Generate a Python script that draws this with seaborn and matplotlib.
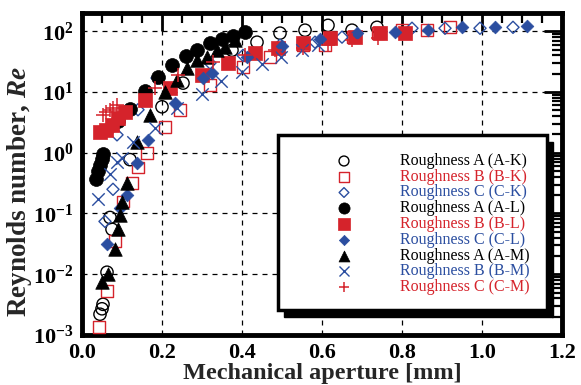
import matplotlib
matplotlib.use("Agg")
import numpy as np
import pandas as pd
import seaborn as sns
import matplotlib.pyplot as plt
from matplotlib.ticker import LogLocator, MultipleLocator, LogFormatterMathtext, NullFormatter, FormatStrFormatter
from matplotlib.patches import Rectangle

# ---------------- data ----------------
ak_x = [0.045, 0.05, 0.0525, 0.0625, 0.07, 0.075, 0.12, 0.2, 0.2525, 0.375, 0.4375, 0.495, 0.5575, 0.615, 0.675, 0.7375]
ak_y = [0.0022, 0.0027, 0.0032, 0.0108, 0.086, 0.055, 0.77, 5.7, 14, 48.8, 66, 93, 104, 125, 104, 116]

bk_x = [0.0425, 0.0625, 0.0825, 0.1025, 0.125, 0.14, 0.1625, 0.2075, 0.245, 0.32, 0.4025, 0.47, 0.5525, 0.6075, 0.6775, 0.74, 0.8, 0.8625, 0.92]
bk_y = [0.00135, 0.0053, 0.035, 0.157, 0.32, 0.57, 1.0, 2.67, 5.1, 13, 25.7, 37.5, 59, 59, 80, 93, 104, 104, 116]

ck_x = [0.0575, 0.0775, 0.0875, 0.14, 0.1875, 0.32, 0.4025, 0.495, 0.5825, 0.65, 0.825, 0.9075, 0.995, 1.0775]
ck_y = [0.074, 0.25, 1.97, 5.1, 17, 30, 40, 59, 66, 80, 112, 112, 112, 116]

al_x = [0.035, 0.04, 0.045, 0.05, 0.0525, 0.09, 0.12, 0.1575, 0.19, 0.225, 0.26, 0.2875, 0.32, 0.35, 0.3775, 0.4075]
al_y = [0.37, 0.51, 0.64, 0.80, 0.96, 3.3, 5.3, 10.4, 17.6, 27.7, 38.9, 48.8, 63.6, 73.9, 82.8, 96.3]

bl_x = [0.045, 0.06, 0.075, 0.09, 0.1075, 0.1575, 0.22, 0.3, 0.365, 0.4325, 0.49, 0.5525, 0.62, 0.6825, 0.745, 0.8075]
bl_y = [2.2, 2.4, 2.9, 3.7, 4.7, 7.4, 11.6, 19, 30, 43.6, 52.6, 63.6, 77, 80, 93, 93]

cl_x = [0.0625, 0.095, 0.1125, 0.1375, 0.165, 0.2325, 0.3025, 0.325, 0.4125, 0.5, 0.595, 0.6875, 0.7825, 0.865, 0.95, 1.0325, 1.1125]
cl_y = [0.031, 0.125, 0.2, 0.69, 1.63, 6.6, 17, 20.5, 37.5, 57, 74, 93, 96, 104, 116, 116, 121]

am_x = [0.05, 0.065, 0.0825, 0.09, 0.095, 0.1, 0.1125, 0.1375, 0.17, 0.2075, 0.2375, 0.2625, 0.2875, 0.3125, 0.3375, 0.3575, 0.3825]
am_y = [0.0074, 0.010, 0.026, 0.055, 0.096, 0.157, 0.32, 1.5, 4.2, 10, 15.7, 24.7, 33.5, 37.5, 48.8, 54.7, 71]

bm_x = [0.04, 0.07, 0.0875, 0.1, 0.1275, 0.1825, 0.2375, 0.3, 0.3475, 0.4, 0.45, 0.4975, 0.55, 0.59]
bm_y = [0.17, 0.44, 0.71, 0.83, 1.5, 2.57, 5.5, 9.3, 15.1, 21, 28.8, 37.5, 49, 59]

cm_x = [0.0525, 0.06, 0.07, 0.0775, 0.0875, 0.1825, 0.24, 0.3275, 0.4075, 0.4825, 0.5525, 0.615, 0.675, 0.74]
cm_y = [4.2, 4.7, 5.1, 5.5, 6.1, 11.6, 19, 31, 40, 49, 53, 59, 71, 77]

labels = ["Roughness A (A-K)", "Roughness B (B-K)", "Roughness C (C-K)",
          "Roughness A (A-L)", "Roughness B (B-L)", "Roughness C (C-L)",
          "Roughness A (A-M)", "Roughness B (B-M)", "Roughness C (C-M)"]
x_ticks = [0.0, 0.2, 0.4, 0.6, 0.8, 1.0, 1.2]

# ---------------- style ----------------
sns.set_theme(style="white")
plt.rcParams["font.family"] = ["Liberation Serif", "DejaVu Serif"]
plt.rcParams["mathtext.fontset"] = "custom"
plt.rcParams["mathtext.rm"] = "Liberation Serif:bold"
plt.rcParams["mathtext.it"] = "Liberation Serif:bold:italic"
plt.rcParams["mathtext.bf"] = "Liberation Serif:bold"

BLACK = "#000000"
RED = "#d5232b"
BLUE = "#2b4ea0"

series = [
    (ak_x, ak_y, dict(marker="o", s=78, color=BLACK, facecolor="none", edgecolor=BLACK, linewidth=1.0)),
    (bk_x, bk_y, dict(marker="s", s=72, color=RED, facecolor="none", edgecolor=RED, linewidth=1.0)),
    (ck_x, ck_y, dict(marker="D", s=38, color=BLUE, facecolor="none", edgecolor=BLUE, linewidth=1.0)),
    (al_x, al_y, dict(marker="o", s=100, color=BLACK, edgecolor=BLACK, linewidth=0.5)),
    (bl_x, bl_y, dict(marker="s", s=100, color=RED, edgecolor=RED, linewidth=0.5)),
    (cl_x, cl_y, dict(marker="D", s=42, color=BLUE, edgecolor=BLUE, linewidth=0.5)),
    (am_x, am_y, dict(marker="^", s=95, color=BLACK, edgecolor=BLACK, linewidth=0.5)),
    (bm_x, bm_y, dict(marker="x", s=80, color=BLUE, linewidth=1.0)),
    (cm_x, cm_y, dict(marker="+", s=90, color=RED, linewidth=1.1)),
]

fig = plt.figure(figsize=(5.81, 3.85), dpi=100)
ax = fig.add_axes([82 / 581, 1 - 335 / 385, 480 / 581, 322 / 385])

for xs, ys, kw in series:
    df = pd.DataFrame({"x": xs, "y": ys})
    sns.scatterplot(data=df, x="x", y="y", ax=ax, legend=False, zorder=3, **kw)

ax.set_yscale("log")
ax.set_xlim(0, 1.2)
ax.set_ylim(1e-3, 10 ** 2.3)

ax.set_xticks(x_ticks)
ax.xaxis.set_major_formatter(FormatStrFormatter("%.1f"))
ax.xaxis.set_minor_locator(MultipleLocator(0.05))
ax.yaxis.set_major_locator(LogLocator(base=10, numticks=10))
ax.yaxis.set_minor_locator(LogLocator(base=10, subs=np.arange(2, 10), numticks=20))
ax.yaxis.set_major_formatter(LogFormatterMathtext())
ax.yaxis.set_minor_formatter(NullFormatter())

ax.grid(True, which="major", color="black", linestyle=(0, (4, 4)), linewidth=0.9)
ax.set_axisbelow(True)

ax.tick_params(which="both", direction="in", top=True, right=True, colors="black")
ax.tick_params(which="major", length=13, width=2, labelsize=16, pad=6)
ax.tick_params(which="minor", length=7, width=1.6)
for lab in ax.get_xticklabels() + ax.get_yticklabels():
    lab.set_fontweight("bold")
for sp in ax.spines.values():
    sp.set_linewidth(3.5)
    sp.set_color("black")

ax.set_xlabel("Mechanical aperture [mm]", fontsize=17.5, fontweight="bold", labelpad=0)
ax.set_ylabel("Reynolds number, $Re$", fontsize=19.5, fontweight="bold")
ax.yaxis.set_label_coords((34 - 82) / 480, (335 - 192) / 322)

# ---------------- legend box ----------------
def ax_x(px):
    return (px - 82) / 480

def ax_y(py):
    return (335 - py) / 322

bx0, bx1 = ax_x(278), ax_x(547)
by0, by1 = ax_y(310), ax_y(135)
shadow = Rectangle((bx0 + 6 / 480, by0 - 7 / 322), bx1 - bx0, by1 - by0, transform=ax.transAxes,
                   facecolor="black", edgecolor="black", zorder=9, clip_on=False)
box = Rectangle((bx0, by0), bx1 - bx0, by1 - by0, transform=ax.transAxes,
                facecolor="white", edgecolor="black", linewidth=2.5, zorder=10, clip_on=False)
ax.add_patch(shadow)
ax.add_patch(box)

for i, (lab, (_, _, kw)) in enumerate(zip(labels, series)):
    py = 161 + i * 15.75
    mk = dict(kw)
    col = mk.pop("color")
    ax.scatter([ax_x(344)], [ax_y(py)], transform=ax.transAxes, zorder=11, clip_on=False,
               color=col, **{k: v for k, v in mk.items() if k != "s"}, s=mk["s"] * 0.65)
    ax.text(ax_x(400), ax_y(py), lab, transform=ax.transAxes, fontsize=11.5, color=col,
            va="center", ha="left", zorder=12)

fig.savefig("out.png", dpi=100)
